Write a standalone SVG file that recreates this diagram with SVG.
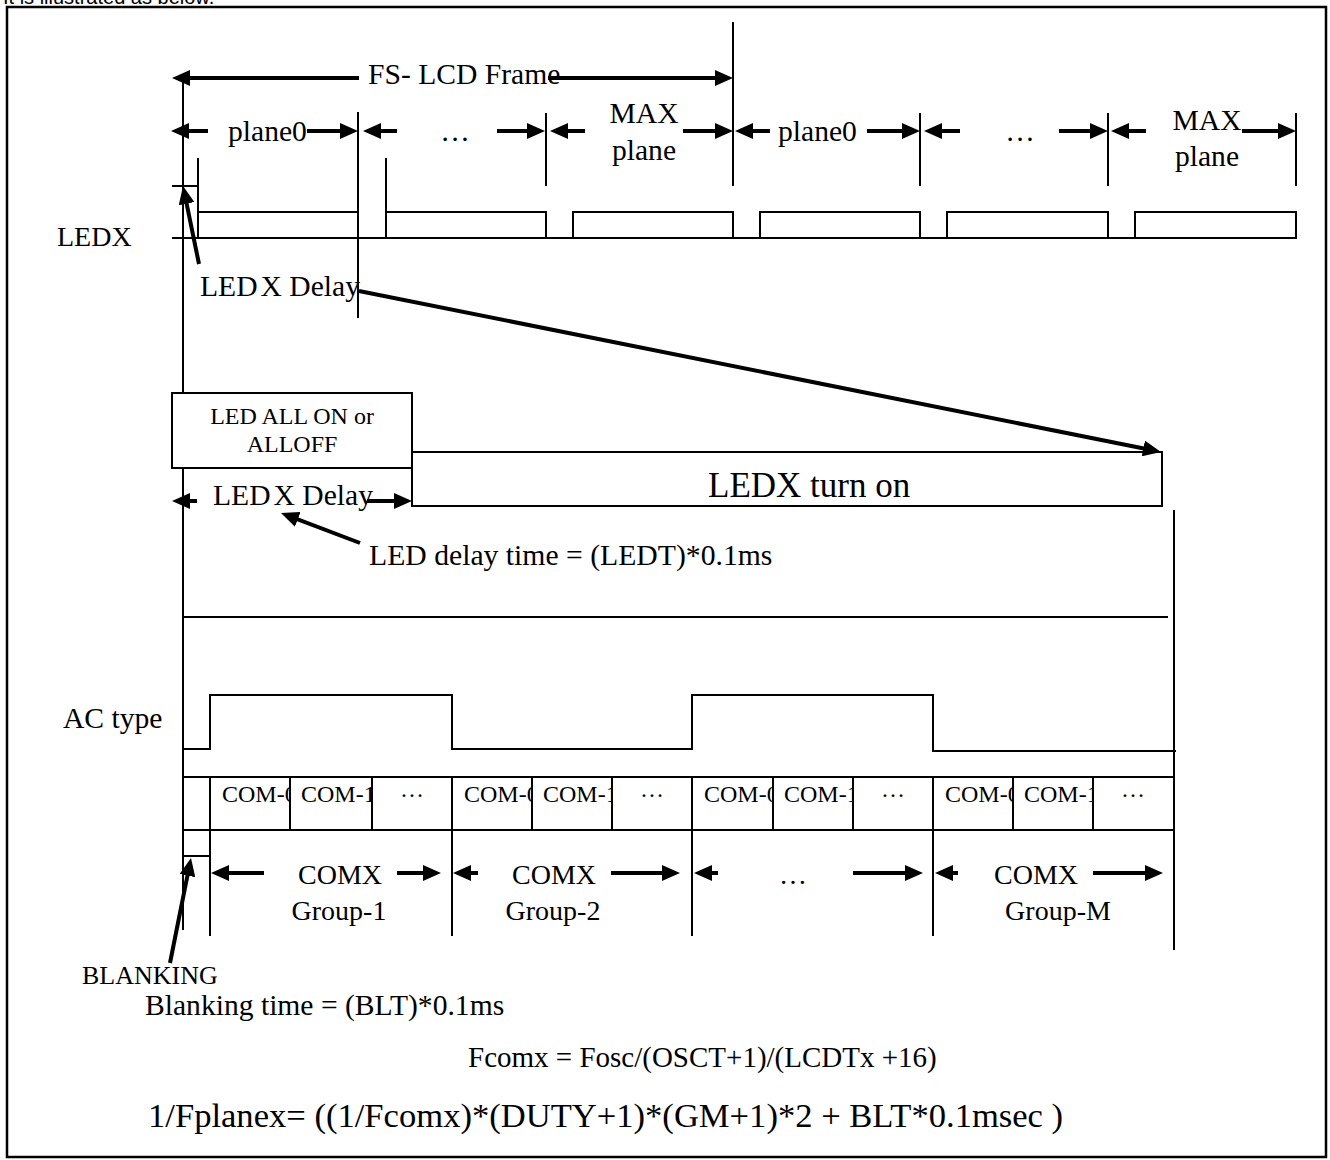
<svg xmlns="http://www.w3.org/2000/svg" width="1330" height="1160" viewBox="0 0 1330 1160">
<style>
  text { font-family: "Liberation Serif", "Times New Roman", serif; fill: #000; }
  .t29 { font-size: 29.6px; }
  .t28 { font-size: 28px; }
  .t24 { font-size: 24px; }
  .sans { font-family: "Liberation Sans", Arial, sans-serif; font-size: 20px; }
  .thin { stroke: #000; stroke-width: 2; fill: none; }
  .frame { stroke: #000; stroke-width: 2.5; fill: none; }
  .box { stroke: #000; stroke-width: 2; fill: #fff; }
  .arr { stroke: #000; stroke-width: 4; fill: none; marker-end: url(#ah); }
  .mid { text-anchor: middle; }
</style>
<defs>
  <marker id="ah" markerUnits="userSpaceOnUse" markerWidth="18" markerHeight="16" refX="12" refY="8" orient="auto" viewBox="0 0 18 16">
    <path d="M0,0 L18,8 L0,16 z" fill="#000"/>
  </marker>
</defs>

<rect width="1330" height="1160" fill="#fff"/>
<text class="sans" x="3" y="4">It is illustrated as below.</text>

<g id="frame">
  <rect class="frame" x="7" y="7" width="1319" height="1150"/>
</g>

<g id="time-grid">
  <line class="thin" x1="183" y1="78" x2="183" y2="930"/>
  <line class="thin" x1="358" y1="112" x2="358" y2="318"/>
  <line class="thin" x1="546" y1="113" x2="546" y2="186"/>
  <line class="thin" x1="733" y1="22" x2="733" y2="186"/>
  <line class="thin" x1="920" y1="113" x2="920" y2="186"/>
  <line class="thin" x1="1108" y1="113" x2="1108" y2="186"/>
  <line class="thin" x1="1296" y1="113" x2="1296" y2="186"/>
</g>

<g id="frame-labels">
  <text class="t29" x="368" y="84">FS- LCD Frame</text>
  <text class="t29" x="228" y="141">plane0</text>
  <text class="t29 mid" x="455" y="141">…</text>
  <text class="t29 mid" x="644" y="123">MAX</text>
  <text class="t29 mid" x="644" y="160">plane</text>
  <text class="t29" x="778" y="141">plane0</text>
  <text class="t29 mid" x="1020" y="141">…</text>
  <text class="t29 mid" x="1207" y="130">MAX</text>
  <text class="t29 mid" x="1207" y="166">plane</text>
</g>

<g id="ledx-signal">
  <text class="t28" x="57" y="246">LEDX</text>
  <line class="thin" x1="172" y1="238" x2="1297" y2="238"/>
  <line class="thin" x1="172" y1="186" x2="198" y2="186"/>
  <line class="thin" x1="198" y1="158" x2="198" y2="238"/>
  <line class="thin" x1="386" y1="158" x2="386" y2="238"/>
  <polyline class="thin" points="198,212 358,212"/>
  <polyline class="thin" points="386,212 546,212 546,238"/>
  <polyline class="thin" points="573,238 573,212 733,212 733,238"/>
  <polyline class="thin" points="760,238 760,212 920,212 920,238"/>
  <polyline class="thin" points="947,238 947,212 1108,212 1108,238"/>
  <polyline class="thin" points="1135,238 1135,212 1296,212 1296,238"/>
  <text class="t29" x="200" y="296">LED<tspan dx="3">X</tspan> Delay</text>
</g>

<g id="led-all-box">
  <rect class="box" x="172" y="393" width="240" height="75"/>
  <text class="t24 mid" x="292" y="424">LED ALL ON or</text>
  <text class="t24 mid" x="292" y="452">ALLOFF</text>
</g>

<g id="ledx-turn-on">
  <rect class="thin" x="412" y="452" width="750" height="54"/>
  <text x="708" y="497" style="font-size:35px">LEDX turn on</text>
</g>

<g id="led-delay">
  <text class="t29" x="213" y="505">LED<tspan dx="3">X</tspan> Delay</text>
  <text x="369" y="565" style="font-size:29.7px">LED delay time = (LEDT)*0.1ms</text>
</g>

<g id="separator">
  <line class="thin" x1="183" y1="617" x2="1168" y2="617"/>
  <line class="thin" x1="1174" y1="510" x2="1174" y2="950"/>
</g>

<g id="ac-type">
  <text class="t29" x="63" y="728">AC type</text>
  <polyline class="thin" points="183,749 210,749 210,695 452,695 452,749 692,749 692,695 933,695 933,751 1176,751"/>
</g>

<g id="com-row">
  <line class="thin" x1="183" y1="777" x2="1174" y2="777"/>
  <line class="thin" x1="183" y1="830" x2="1174" y2="830"/>
  <line class="thin" x1="183" y1="856" x2="210" y2="856"/>
  <line class="thin" x1="210" y1="777" x2="210" y2="936"/>
  <line class="thin" x1="452" y1="777" x2="452" y2="936"/>
  <line class="thin" x1="692" y1="777" x2="692" y2="936"/>
  <line class="thin" x1="933" y1="777" x2="933" y2="936"/>
  <line class="thin" x1="290" y1="777" x2="290" y2="830"/>
  <line class="thin" x1="372" y1="777" x2="372" y2="830"/>
  <line class="thin" x1="532" y1="777" x2="532" y2="830"/>
  <line class="thin" x1="612" y1="777" x2="612" y2="830"/>
  <line class="thin" x1="773" y1="777" x2="773" y2="830"/>
  <line class="thin" x1="853" y1="777" x2="853" y2="830"/>
  <line class="thin" x1="1013" y1="777" x2="1013" y2="830"/>
  <line class="thin" x1="1093" y1="777" x2="1093" y2="830"/>
  <svg x="211" y="778" width="78" height="51"><text class="t24" x="11" y="24">COM-0</text></svg>
  <svg x="291" y="778" width="80" height="51"><text class="t24" x="10" y="24">COM-1</text></svg>
  <text class="t24 mid" x="412" y="797">…</text>
  <svg x="453" y="778" width="78" height="51"><text class="t24" x="11" y="24">COM-0</text></svg>
  <svg x="533" y="778" width="78" height="51"><text class="t24" x="10" y="24">COM-1</text></svg>
  <text class="t24 mid" x="652" y="797">…</text>
  <svg x="693" y="778" width="79" height="51"><text class="t24" x="11" y="24">COM-0</text></svg>
  <svg x="774" y="778" width="78" height="51"><text class="t24" x="10" y="24">COM-1</text></svg>
  <text class="t24 mid" x="893" y="797">…</text>
  <svg x="934" y="778" width="78" height="51"><text class="t24" x="11" y="24">COM-0</text></svg>
  <svg x="1014" y="778" width="78" height="51"><text class="t24" x="10" y="24">COM-1</text></svg>
  <text class="t24 mid" x="1133" y="797">…</text>
</g>

<g id="com-groups">
  <text class="t28 mid" x="340" y="884">COMX</text>
  <text class="t28 mid" x="339" y="920">Group-1</text>
  <text class="t28 mid" x="554" y="884">COMX</text>
  <text class="t28 mid" x="553" y="920">Group-2</text>
  <text class="t28 mid" x="793" y="884">…</text>
  <text class="t28 mid" x="1036" y="884">COMX</text>
  <text class="t28 mid" x="1058" y="920">Group-M</text>
</g>

<g id="blanking">
  <text x="82" y="984" style="font-size:26px">BLANKING</text>
  <text class="t29" x="145" y="1015">Blanking time = (BLT)*0.1ms</text>
</g>

<g id="formulas">
  <text x="468" y="1067" style="font-size:29px">Fcomx = Fosc/(OSCT+1)/(LCDTx +16)</text>
  <text x="148" y="1127" style="font-size:34.6px">1/Fplanex= ((1/Fcomx)*(DUTY+1)*(GM+1)*2 + BLT*0.1msec )</text>
</g>

<g id="connectors">
  <line class="arr" x1="359" y1="78" x2="178" y2="78"/>
  <line class="arr" x1="548" y1="78" x2="727" y2="78"/>
  <line class="arr" x1="208" y1="131" x2="177" y2="131"/>
  <line class="arr" x1="307" y1="131" x2="352" y2="131"/>
  <line class="arr" x1="397" y1="131" x2="369" y2="131"/>
  <line class="arr" x1="497" y1="131" x2="539" y2="131"/>
  <line class="arr" x1="585" y1="131" x2="556" y2="131"/>
  <line class="arr" x1="683" y1="131" x2="727" y2="131"/>
  <line class="arr" x1="770" y1="131" x2="741" y2="131"/>
  <line class="arr" x1="867" y1="131" x2="914" y2="131"/>
  <line class="arr" x1="960" y1="131" x2="930" y2="131"/>
  <line class="arr" x1="1059" y1="131" x2="1102" y2="131"/>
  <line class="arr" x1="1146" y1="131" x2="1117" y2="131"/>
  <line class="arr" x1="1242" y1="131" x2="1290" y2="131"/>
  <line class="arr" x1="199" y1="264" x2="184.2" y2="191.9"/>
  <line class="arr" x1="359" y1="291" x2="1155.1" y2="450.8"/>
  <line class="arr" x1="197" y1="501" x2="178" y2="501"/>
  <line class="arr" x1="367" y1="501" x2="406" y2="501"/>
  <line class="arr" x1="360" y1="543" x2="286.6" y2="515.1"/>
  <line class="arr" x1="170" y1="963" x2="189.8" y2="863.9"/>
  <line class="arr" x1="264" y1="873" x2="217" y2="873"/>
  <line class="arr" x1="397" y1="873" x2="435" y2="873"/>
  <line class="arr" x1="478" y1="873" x2="459" y2="873"/>
  <line class="arr" x1="611" y1="873" x2="674" y2="873"/>
  <line class="arr" x1="718" y1="873" x2="700" y2="873"/>
  <line class="arr" x1="853" y1="873" x2="917" y2="873"/>
  <line class="arr" x1="958" y1="873" x2="941" y2="873"/>
  <line class="arr" x1="1093" y1="873" x2="1157" y2="873"/>
</g>
</svg>
